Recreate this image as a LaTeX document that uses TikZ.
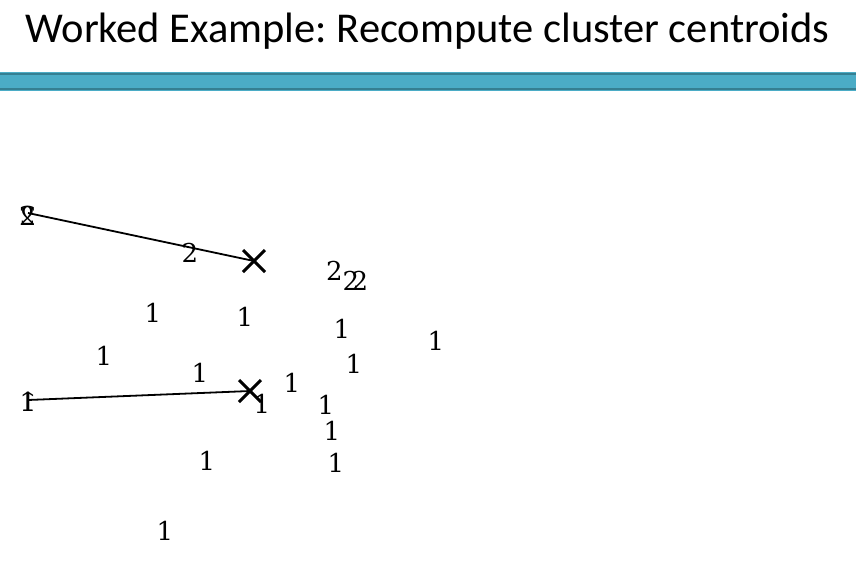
\documentclass[tikz,border=0pt]{standalone}
\usepackage{fontspec}
\usetikzlibrary{calc}
\setmainfont{Carlito}
\newfontfamily\numfont{DejaVu Serif}
\definecolor{barfill}{HTML}{4BACC6}
\definecolor{baredge}{HTML}{357F92}
\frenchspacing
\begin{document}
\begin{tikzpicture}[x=1pt,y=-1pt,
  lbl/.style={inner sep=0pt,anchor=base,font=\numfont\fontsize{26}{26}\selectfont},
  xmark/.style={line width=3pt,black},
  link/.style={line width=1.8pt,black}]
\useasboundingbox (0,0) rectangle (856,574);
% title
\node[inner sep=0pt,anchor=base,font=\fontsize{42.5}{44}\selectfont] (title) at (427.5,42) {Worked Example: Recompute cluster centroids};
% bar
\fill[barfill] (0,72) rectangle (856,91);
\draw[baredge,line width=2pt] (0,74) -- (856,74);
\draw[baredge,line width=2pt] (0,89) -- (856,89);
% centroids
\coordinate (c2) at (254,261);
\coordinate (c1) at (250,391);
\coordinate (o2) at (28,213);
\coordinate (o1) at (28,400);
% old centroid labels (overlapped)
\node[lbl] (a2) at (27.5,225) {2};
\node[lbl,xscale=-1] (a2m) at (27.5,225) {2};
\node[lbl] (a1) at (28,411) {1};
\node[lbl,xscale=-1] (a1m) at (28,411) {1};
\draw[link] (o2) -- (c2);
\draw[link] (o1) -- (c1);
\draw[xmark] ($(c2)+(-11,-11)$) -- ($(c2)+(11,11)$) ($(c2)+(-11,11)$) -- ($(c2)+(11,-11)$);
\draw[xmark] ($(c1)+(-11,-11)$) -- ($(c1)+(11,11)$) ($(c1)+(-11,11)$) -- ($(c1)+(11,-11)$);
% points cluster 2
\node[lbl] (p1) at (190,262) {2};
\node[lbl] (p2) at (334.5,280) {2};
\node[lbl] (p3) at (351,290) {2};
\node[lbl] (p4) at (360,290) {2};
% points cluster 1
\node[lbl] (q1) at (153,322) {1};
\node[lbl] (q2) at (245,326) {1};
\node[lbl] (q3) at (104,365) {1};
\node[lbl] (q4) at (200,382) {1};
\node[lbl] (q5) at (342,338) {1};
\node[lbl] (q6) at (436,350) {1};
\node[lbl] (q7) at (354,373) {1};
\node[lbl] (q8) at (292,392) {1};
\node[lbl] (q9) at (262,413) {1};
\node[lbl] (q10) at (326,414) {1};
\node[lbl] (q11) at (332,440) {1};
\node[lbl] (q12) at (207,470) {1};
\node[lbl] (q13) at (336,472) {1};
\node[lbl] (q14) at (165,540) {1};
\end{tikzpicture}
\end{document}
